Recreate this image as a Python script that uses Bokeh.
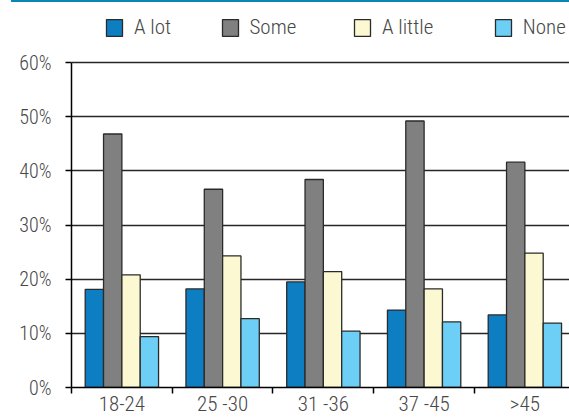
from bokeh.plotting import figure
from bokeh.models import (Range1d, FixedTicker, PrintfTickFormatter, Legend,
                          LegendItem, Div)
from bokeh.layouts import column
from bokeh.embed import file_html
from bokeh.resources import INLINE

# ---- data ----
categories = ["18-24", "25 -30", "31 -36", "37 -45", ">45"]
series_names = ["A lot", "Some", "A little", "None"]
a_lot = [18.1, 18.2, 19.5, 14.3, 13.4]
some = [46.8, 36.6, 38.4, 49.2, 41.6]
a_little = [20.8, 24.3, 21.4, 18.2, 24.8]
none_ = [9.4, 12.7, 10.4, 12.1, 11.9]
y_ticks = [0, 10, 20, 30, 40, 50, 60]

series_values = [a_lot, some, a_little, none_]
colors = ["#0e7ec3", "#808080", "#fcf9d2", "#6dcff6"]

FONT = "Roboto Condensed Light, Roboto Condensed, DejaVu Sans Condensed, sans-serif"
TXT = "#484848"

# plot area reaches to the top of the canvas so the legend can sit inside it;
# the value axis itself is bounded to 0..60
Y_TOP = 71.08

p = figure(width=569, height=416,
           x_range=Range1d(0, 4.943), y_range=Range1d(0, Y_TOP),
           output_backend="svg", toolbar_location=None,
           min_border_left=71, min_border_right=0,
           min_border_top=0, min_border_bottom=31)
p.outline_line_color = None
p.background_fill_color = "white"

n = len(series_names)
bw = 0.182
offsets = [(k - (n - 1) / 2) * bw for k in range(n)]

renderers = []
for k, (name, vals, col) in enumerate(zip(series_names, series_values, colors)):
    xs = [i + 0.5 + offsets[k] for i in range(len(categories))]
    r = p.vbar(x=xs, top=vals, width=bw, bottom=0,
               fill_color=col, line_color="#2a2a2a", line_width=1.3)
    renderers.append(r)

# x axis
xa = p.xaxis[0]
xa.ticker = FixedTicker(ticks=[i + 0.5 for i in range(len(categories))],
                        minor_ticks=list(range(len(categories) + 1)))
xa.major_label_overrides = {i + 0.5: c for i, c in enumerate(categories)}
xa.major_tick_out = 0
xa.major_tick_in = 0
xa.minor_tick_out = 6
xa.minor_tick_in = 0
xa.minor_tick_line_color = "black"
xa.minor_tick_line_width = 1.5
xa.axis_line_color = "black"
xa.axis_line_width = 1.5
xa.major_label_text_font = FONT
xa.major_label_text_font_size = "21px"
xa.major_label_text_color = TXT
xa.major_label_standoff = -2

# y axis
ya = p.yaxis[0]
ya.ticker = FixedTicker(ticks=y_ticks)
ya.bounds = (y_ticks[0], y_ticks[-1])
ya.formatter = PrintfTickFormatter(format="%d%%")
ya.major_tick_out = 6
ya.major_tick_in = 0
ya.minor_tick_line_color = None
ya.major_tick_line_color = "black"
ya.major_tick_line_width = 1.5
ya.axis_line_color = "black"
ya.axis_line_width = 1.5
ya.major_label_text_font = FONT
ya.major_label_text_font_size = "20px"
ya.major_label_text_color = TXT
ya.major_label_standoff = 14

p.xgrid.grid_line_color = None
p.ygrid.ticker = FixedTicker(ticks=y_ticks)
p.ygrid.grid_line_color = "#262626"
p.ygrid.grid_line_width = 1.5

# legend entries, each at its own spot above the bars
leg_x = [33, 148.5, 281, 421.8]
for nm, r, lx in zip(series_names, renderers, leg_x):
    lg = Legend(items=[LegendItem(label=nm, renderers=[r])],
                location=(lx, 348), orientation="horizontal",
                glyph_width=20, glyph_height=21, label_standoff=10,
                padding=0, margin=0, border_line_color=None,
                background_fill_alpha=0,
                label_text_font=FONT, label_text_font_size="21px",
                label_text_color=TXT, label_height=21)
    p.add_layout(lg, "center")

# thin coloured rule at the very top of the graphic
rule = Div(text="", width=558, height=2, margin=(0, 0, 0, 11),
           styles={"background-color": "#0a86b5"})

layout = column(rule, p, spacing=0)
open("out.html", "w").write(file_html(layout, INLINE))
